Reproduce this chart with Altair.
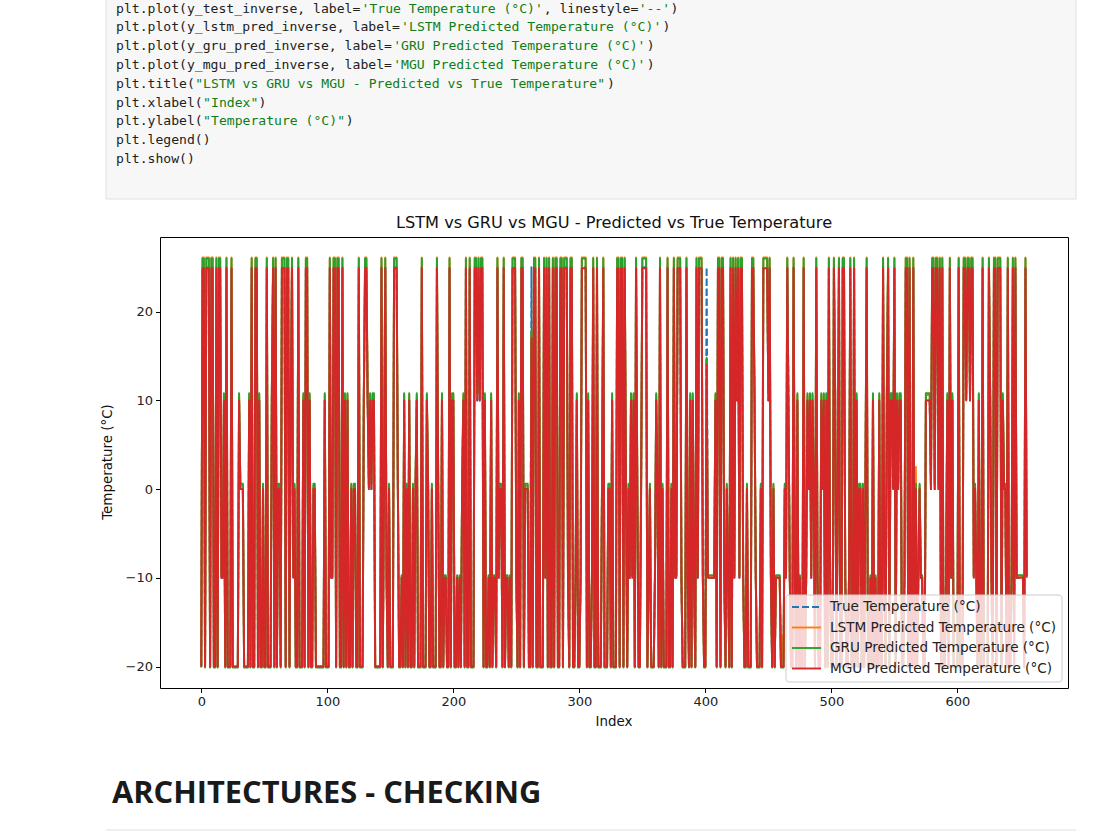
import altair as alt
import pandas as pd

# ---------------- data ----------------
T, M, Z, N, B = 25, 10, 0, -10, -20   # levels of the true temperature

true_000 = [B,T,T,B,T,T,T,B,T,T, B,B,T,B,T,T,N,N,M,B, T,B,B,B,T,B,B,B,B,B, M,Z,Z,Z,B,B,B,B,M,B, T,B,B,T,T,B,M,B,B,Z]
true_050 = [B,B,T,B,B,B,M,T,B,T, B,Z,Z,B,T,T,T,B,T,T, B,M,T,N,Z,B,B,T,B,B, B,M,B,T,T,B,M,B,B,Z, Z,B,B,B,B,B,B,B,M,B]
true_100 = [B,B,T,N,N,T,T,B,T,T, B,B,T,B,M,B,M,B,B,Z, B,Z,Z,B,B,T,B,B,B,M, T,T,M,Z,M,Z,M,M,B,B, B,B,B,T,B,Z,T,N,B,Z]
true_150 = [B,B,B,T,T,T,Z,B,B,N, B,M,B,Z,B,M,B,B,Z,B, Z,M,B,B,B,T,B,B,B,M, Z,B,B,Z,B,B,B,T,Z,B, B,M,B,N,N,B,B,T,B,M]
true_200 = [M,B,B,N,B,N,B,Z,M,B, T,B,B,T,B,B,B,T,T,M, T,M,T,T,B,M,B,B,N,B, M,B,N,N,B,T,N,Z,Z,B, T,B,N,N,B,N,B,T,T,T]
true_250 = [N,B,M,B,T,T,B,Z,Z,Z, B,B,T,B,T,T,B,B,T,B, B,B,T,N,T,B,T,B,B,T, B,T,T,B,B,T,T,B,T,T, T,N,B,T,T,B,B,N,M,B]
true_300 = [B,N,T,T,T,T,B,M,B,B, N,T,B,B,T,B,B,B,Z,T, B,B,B,Z,Z,B,M,B,B,B, T,T,B,T,T,B,T,Z,B,Z, N,M,N,M,B,T,Z,B,B,Z]
true_350 = [T,T,T,T,B,N,Z,B,B,B, N,M,Z,B,T,B,Z,B,B,B, T,B,B,Z,B,T,N,N,T,T, T,N,B,B,B,T,N,B,M,B, M,N,B,T,N,T,T,T,N,B]
true_400 = [B,T,N,N,N,N,N,N,M,B, T,T,B,T,T,N,B,Z,N,B, T,B,T,N,T,M,T,N,T,T, N,B,B,Z,B,B,B,T,T,M, N,B,B,B,Z,B,T,T,T,T]
true_450 = [M,T,N,B,Z,B,N,N,N,N, B,B,B,Z,N,T,M,N,B,B, T,N,B,M,B,N,B,B,T,B, N,M,Z,M,N,M,Z,B,T,N, B,B,M,Z,M,B,M,B,T,N]
true_500 = [B,B,T,M,B,Z,T,B,B,T, T,N,B,B,N,T,B,B,T,B, M,B,Z,Z,B,Z,B,Z,T,B, B,N,B,M,B,N,B,B,M,B, B,T,N,B,M,T,B,M,M,Z]
true_550 = [T,B,M,Z,M,M,B,B,N,T, T,B,T,B,B,T,B,Z,B,N, Z,N,N,B,B,M,M,M,M,Z, T,T,Z,T,T,Z,T,B,T,B, B,N,M,B,T,N,M,B,B,B]
true_600 = [B,T,B,B,B,T,T,M,T,T, M,T,T,N,Z,N,B,M,B,B, T,B,B,B,B,T,M,N,B,T, T,B,T,T,T,B,M,Z,Z,B, T,B,B,N,T,B,T,N,N,N, N,N,N,B,T,N]

# value each model shows at each true level
levels   = [25,   10,   0,   -10,   -20]
lstm_lvl = [26.1, 10.6, 0.4, -9.8,  -20.0]
gru_lvl  = [26.0, 10.8, 0.6, -9.7,  -20.1]
mgu_lvl  = [24.9, 10.0, 0.0, -10.0, -20.0]

# points where the predictions leave those levels
exc_idx  = [262,  394,  401,  461,   466, 511,   567]
exc_lstm = [17.5, -7.5, 14.5, -16.5, 7.5, -11.5, 2.5]
exc_gru  = [17.8, -9.7, 14.8, -20.1, 7.8, -9.7,  0.6]
exc_mgu  = [17.0, -10.0, 14.0, -20.0, 7.0, -10.0, 0.0]

x_ticks = [0, 100, 200, 300, 400, 500, 600]
y_ticks = [-20, -10, 0, 10, 20]

series_names = ["True Temperature (°C)", "LSTM Predicted Temperature (°C)",
                "GRU Predicted Temperature (°C)", "MGU Predicted Temperature (°C)"]
series_colors = ["#1f77b4", "#ff7f0e", "#2ca02c", "#d62728"]

# ---------------- build table ----------------
true_vals = (true_000 + true_050 + true_100 + true_150 + true_200 + true_250 + true_300 +
             true_350 + true_400 + true_450 + true_500 + true_550 + true_600)
lk = {lv: i for i, lv in enumerate(levels)}
lstm_vals = [lstm_lvl[lk[v]] for v in true_vals]
gru_vals = [gru_lvl[lk[v]] for v in true_vals]
mgu_vals = [mgu_lvl[lk[v]] for v in true_vals]
for i, a, g, m in zip(exc_idx, exc_lstm, exc_gru, exc_mgu):
    lstm_vals[i], gru_vals[i], mgu_vals[i] = a, g, m
n = len(true_vals)
df = pd.DataFrame({"idx": list(range(n)), "true": true_vals, "lstm": lstm_vals,
                   "gru": gru_vals, "mgu": mgu_vals})

allv = true_vals + lstm_vals + gru_vals + mgu_vals
ymin, ymax = min(allv), max(allv)
xm = 0.05 * (n - 1)
ym = 0.05 * (ymax - ymin)
xs = alt.Scale(domain=[-xm, n - 1 + xm], nice=False, zero=False)
ys = alt.Scale(domain=[ymin - ym, ymax + ym], nice=False, zero=False)

# ---------------- layout ----------------
OX, OY = 160, 237          # plot-area origin on the page
W, H = 908, 451

ax_x = alt.Axis(values=x_ticks, title=None, grid=False, domain=False, tickColor="black",
                tickSize=4.5, tickWidth=1, labelFont="DejaVu Sans", labelFontSize=13,
                labelColor="#222", labelPadding=3, format="d")
ax_y = alt.Axis(values=y_ticks, title=None, grid=False, domain=False, tickColor="black",
                tickSize=4.5, tickWidth=1, labelFont="DejaVu Sans", labelFontSize=13,
                labelColor="#222", labelPadding=3, format="d")

def line(field, color, dash=None):
    kw = dict(color=color, strokeWidth=2.0, strokeJoin="round", clip=True)
    if dash:
        kw["strokeDash"] = dash
    return alt.Chart(df).mark_line(**kw).encode(
        x=alt.X("idx:Q", scale=xs, axis=ax_x),
        y=alt.Y(f"{field}:Q", scale=ys, axis=ax_y),
    )

plot = alt.layer(
    line("true", series_colors[0], dash=[7, 3]),
    line("lstm", series_colors[1]),
    line("gru", series_colors[2]),
    line("mgu", series_colors[3]),
)

def P(x, y):
    return x - OX, y - OY

def text_layer(rows, **kw):
    d = pd.DataFrame(rows, columns=["px", "py", "text", "col"])
    return alt.Chart(d).mark_text(**kw).encode(
        x=alt.X("px:Q", scale=None, axis=None),
        y=alt.Y("py:Q", scale=None, axis=None),
        text="text:N",
        color=alt.Color("col:N", scale=None),
    )

# code cell
K, G = "#212121", "#0f7d15"
code_lines = [
    [("plt.plot(y_test_inverse, label=", K), ("'True Temperature (°C)'", G), (", linestyle=", K), ("'--'", G), (")", K)],
    [("plt.plot(y_lstm_pred_inverse, label=", K), ("'LSTM Predicted Temperature (°C)'", G), (")", K)],
    [("plt.plot(y_gru_pred_inverse, label=", K), ("'GRU Predicted Temperature (°C)'", G), (")", K)],
    [("plt.plot(y_mgu_pred_inverse, label=", K), ("'MGU Predicted Temperature (°C)'", G), (")", K)],
    [("plt.title(", K), ('"LSTM vs GRU vs MGU - Predicted vs True Temperature"', G), (")", K)],
    [("plt.xlabel(", K), ('"Index"', G), (")", K)],
    [("plt.ylabel(", K), ('"Temperature (°C)"', G), (")", K)],
    [("plt.legend()", K)],
    [("plt.show()", K)],
]
CW = 7.92
code_rows = []
for li, segs in enumerate(code_lines):
    col = 0
    y = 8.5 + li * 18.8
    for s, c in segs:
        px, py = P(116 + col * CW, y)
        code_rows.append((px, py, s, c))
        col += len(s)

bx0, by0 = P(106, -5)
bx1, by1 = P(1076, 199)
code_box = alt.Chart(pd.DataFrame({"px": [bx0], "px2": [bx1], "py": [by0], "py2": [by1]})).mark_rect(
    fill="#f7f7f7", stroke="#e0e0e0", strokeWidth=1).encode(
    x=alt.X("px:Q", scale=None, axis=None), x2="px2:Q",
    y=alt.Y("py:Q", scale=None, axis=None), y2="py2:Q")
code_text = text_layer(code_rows, font="DejaVu Sans Mono", fontSize=13.1, align="left", baseline="middle")

# titles
tx, ty = P(614, 223)
title = text_layer([(tx, ty, "LSTM vs GRU vs MGU - Predicted vs True Temperature", "#111")],
                   font="DejaVu Sans", fontSize=16.2, align="center", baseline="middle")
xx, xy = P(614, 722)
xtitle = text_layer([(xx, xy, "Index", "#111")], font="DejaVu Sans", fontSize=13.4,
                    align="center", baseline="middle")
yx, yy = P(108, 462)
ytitle = text_layer([(yx, yy, "Temperature (°C)", "#111")], font="DejaVu Sans", fontSize=13.4,
                    align="center", baseline="middle", angle=270)

# legend
lx0, ly0 = P(786, 595)
lx1, ly1 = P(1062, 682)
leg_box = alt.Chart(pd.DataFrame({"px": [lx0], "px2": [lx1], "py": [ly0], "py2": [ly1]})).mark_rect(
    fill="white", fillOpacity=0.8, stroke="#cccccc", strokeWidth=1, cornerRadius=3).encode(
    x=alt.X("px:Q", scale=None, axis=None), x2="px2:Q",
    y=alt.Y("py:Q", scale=None, axis=None), y2="py2:Q")
row_y = [607, 627.5, 648, 668.5]
leg_lines = []
leg_rows = []
for nme, colr, ry in zip(series_names, series_colors, row_y):
    a, b = P(792, ry)
    c, _ = P(821, ry)
    leg_lines.append({"px": a, "px2": c, "py": b, "col": colr})
    t, _ = P(830, ry)
    leg_rows.append((t, b, nme, "#222"))
leg_df = pd.DataFrame(leg_lines)
leg_dash = alt.Chart(leg_df.iloc[:1]).mark_rule(strokeWidth=1.9, strokeDash=[7, 3]).encode(
    x=alt.X("px:Q", scale=None, axis=None), x2="px2:Q",
    y=alt.Y("py:Q", scale=None, axis=None), color=alt.Color("col:N", scale=None))
leg_solid = alt.Chart(leg_df.iloc[1:]).mark_rule(strokeWidth=1.9).encode(
    x=alt.X("px:Q", scale=None, axis=None), x2="px2:Q",
    y=alt.Y("py:Q", scale=None, axis=None), color=alt.Color("col:N", scale=None))
leg_text = text_layer(leg_rows, font="DejaVu Sans", fontSize=13.6, align="left", baseline="middle")

# heading below
hx, hy = P(112, 803)
heading = text_layer([(hx, hy, "ARCHITECTURES - CHECKING", "#1a1a1a")], font="Open Sans",
                     fontSize=30.8, fontWeight="bold", align="left", baseline="alphabetic")
rx0, ry0 = P(106, 830)
rx1, _ = P(1076, 830)
bottom_rule = alt.Chart(pd.DataFrame({"px": [rx0], "px2": [rx1], "py": [ry0]})).mark_rule(
    color="#e0e0e0", strokeWidth=1).encode(
    x=alt.X("px:Q", scale=None, axis=None), x2="px2:Q", y=alt.Y("py:Q", scale=None, axis=None))

ann = alt.layer(code_box, code_text, title, xtitle, ytitle, leg_box, leg_dash, leg_solid,
                leg_text, heading, bottom_rule)

chart = alt.layer(plot, ann).resolve_scale(x="independent", y="independent").properties(
    width=W, height=H,
    autosize=alt.AutoSizeParams(type="none"),
    padding={"left": OX, "top": OY, "right": 1108 - OX - W, "bottom": 832 - OY - H},
    background="white",
).configure_view(stroke="black", strokeWidth=1)

chart.save("out.html", embed_options={"renderer": "svg", "actions": False})
